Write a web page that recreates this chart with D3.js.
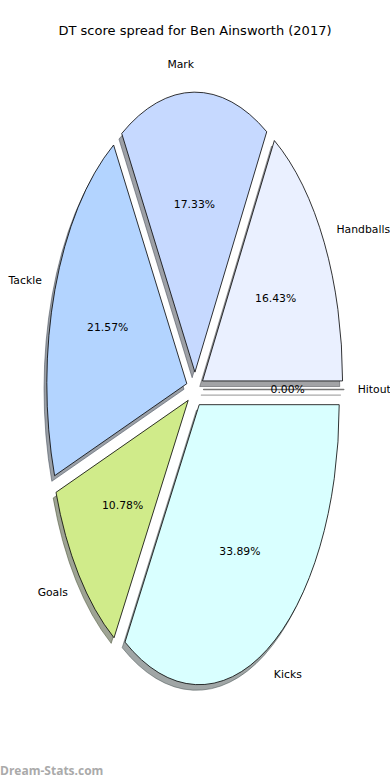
<!DOCTYPE html>
<html>
<head>
<meta charset="utf-8">
<script src="https://cdn.jsdelivr.net/npm/d3@7"></script>
<style>
  body { margin: 0; background: #fff; }
  text { font-family: "DejaVu Sans", sans-serif; }
</style>
</head>
<body>
<svg id="chart" width="390" height="780"></svg>
<script>
// data (percent of DT score)
var categories = ["Handballs", "Mark", "Tackle", "Goals", "Kicks", "Hitout"]
var values     = [16.43, 17.33, 21.57, 10.78, 33.89, 0.00]
var colours    = ["#eaf0ff", "#c6d9ff", "#b3d4ff", "#d0eb8a", "#d9ffff", "#e0e0e0"]
var title      = "DT score spread for Ben Ainsworth (2017)"

var svg = d3.select("#chart")

// pie is stretched into an ellipse (matplotlib axes without equal aspect)
var cx = 195, cy = 389.5,
    rx = 140, ry = 280,
    R = 100,
    explode = 0.062

var pie = d3.pie()
  .sort(null)
  .startAngle(Math.PI / 2)
  .endAngle(Math.PI / 2 - 2 * Math.PI)
  .value(function(d) { return d; });

var arcs = pie(values)

var arc = d3.arc().innerRadius(0).outerRadius(R)

function mid(d) { return (d.startAngle + d.endAngle) / 2; }
function ux(d, k) { return k * Math.sin(mid(d)); }
function uy(d, k) { return -k * Math.cos(mid(d)); }
function shade(c) { c = d3.rgb(c); return d3.rgb(c.r * 0.3, c.g * 0.3, c.b * 0.3); }

var g = svg.append("g")
  .attr("transform", "translate(" + cx + "," + cy + ") scale(" + (rx / R) + "," + (ry / R) + ")");

// shadows first, offset left / down
g.selectAll(".shadow")
  .data(arcs)
  .enter().append("path")
    .attr("class", "shadow")
    .attr("d", arc)
    .attr("transform", function(d) {
      return "translate(" + (ux(d, explode * R) - 0.02 * R) + "," + (uy(d, explode * R) + 0.02 * R) + ")";
    })
    .attr("fill", function(d, i) { return shade(colours[i]); })
    .attr("fill-opacity", 0.5)
    .attr("stroke", function(d, i) { return shade(colours[i]); })
    .attr("stroke-opacity", function(d) { return d.value == 0 ? 0.3 : 0.5; })
    .attr("stroke-width", 1)
    .attr("vector-effect", "non-scaling-stroke");

g.selectAll(".wedge")
  .data(arcs)
  .enter().append("path")
    .attr("class", "wedge")
    .attr("d", arc)
    .attr("transform", function(d) {
      return "translate(" + ux(d, explode * R) + "," + uy(d, explode * R) + ")";
    })
    .attr("fill", function(d, i) { return colours[i]; })
    .attr("stroke", function(d) { return d.value == 0 ? "#777" : "#000"; })
    .attr("stroke-width", function(d) { return d.value == 0 ? 1.6 : 0.8; })
    .attr("stroke-linejoin", "round")
    .attr("vector-effect", "non-scaling-stroke");

// category labels
svg.selectAll(".label")
  .data(arcs)
  .enter().append("text")
    .attr("class", "label")
    .attr("x", function(d) { return cx + rx * ux(d, explode + 1.1); })
    .attr("y", function(d) { return cy + ry * uy(d, explode + 1.1); })
    .attr("dy", "0.35em")
    .attr("text-anchor", function(d) { return ux(d, 1) > 0 ? "start" : "end"; })
    .style("font-size", "10.8px")
    .text(function(d, i) { return categories[i]; });

// percentages
svg.selectAll(".pct")
  .data(arcs)
  .enter().append("text")
    .attr("class", "pct")
    .attr("x", function(d) { return cx + rx * ux(d, explode + 0.6); })
    .attr("y", function(d) { return cy + ry * uy(d, explode + 0.6); })
    .attr("dy", "0.35em")
    .attr("text-anchor", "middle")
    .style("font-size", "10.8px")
    .text(function(d) { return d3.format(".2f")(d.value) + "%"; });

svg.append("text")
  .attr("x", 195)
  .attr("y", 30)
  .attr("dy", "0.35em")
  .attr("text-anchor", "middle")
  .style("font-size", "13px")
  .text(title);

// watermark
svg.append("text")
  .attr("x", 0)
  .attr("y", 775)
  .style("font-family", "'Open Sans', 'DejaVu Sans', sans-serif")
  .style("font-size", "12px")
  .style("font-weight", "bold")
  .attr("fill", "#aaa")
  .text("Dream-Stats.com");
</script>
</body>
</html>
